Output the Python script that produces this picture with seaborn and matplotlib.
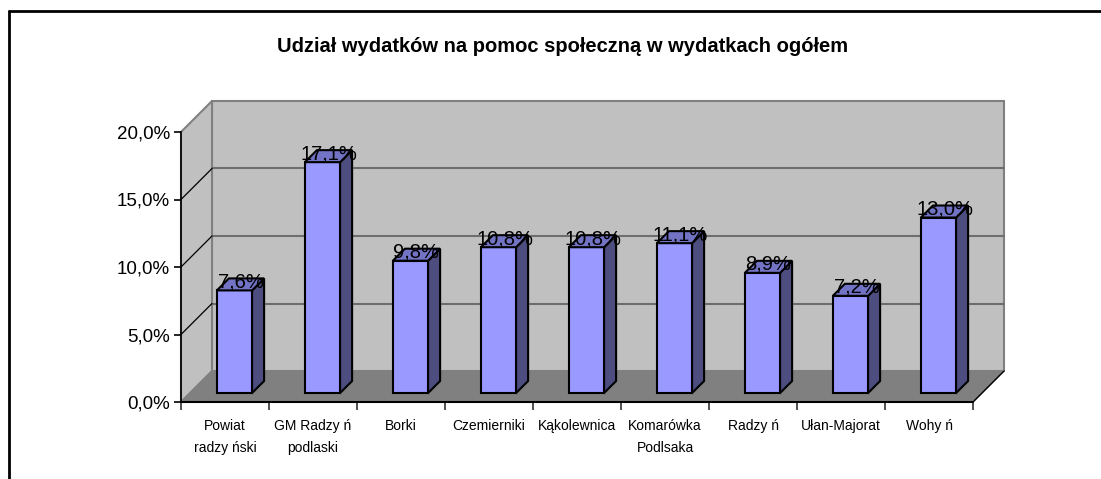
import numpy as np
import seaborn as sns
import matplotlib.pyplot as plt
from matplotlib.patches import Polygon
from matplotlib.lines import Line2D
from matplotlib.ticker import FuncFormatter

# data
categories = ["Powiat\nradzy ński", "GM Radzy ń\npodlaski", "Borki", "Czemierniki",
              "Kąkolewnica", "Komarówka\nPodlsaka", "Radzy ń", "Ułan-Majorat", "Wohy ń"]
values = [7.6, 17.1, 9.8, 10.8, 10.8, 11.1, 8.9, 7.2, 13.0]
value_labels = ["7,6%", "17,1%", "9,8%", "10,8%", "10,8%", "11,1%", "8,9%", "7,2%", "13,0%"]
title = "Udział wydatków na pomoc społeczną w wydatkach ogółem"

sns.set_style("white")
plt.rcParams["font.family"] = ["Liberation Sans", "DejaVu Sans"]
plt.rcParams["text.color"] = "black"
plt.rcParams["xtick.labelcolor"] = "black"
plt.rcParams["ytick.labelcolor"] = "black"

W, H = 1101, 479
fig = plt.figure(figsize=(W / 100, H / 100), dpi=100)
# front plane of the 3d box in pixels
x0, x1, y0, y1 = 181, 973, 402, 132
ax = fig.add_axes([x0 / W, 1 - y0 / H, (x1 - x0) / W, (y0 - y1) / H])

n = len(values)
px_x = (x1 - x0) / n          # pixels per category
px_y = (y0 - y1) / 20.0       # pixels per percent
depth = 31                    # depth of the box in pixels
ddx, ddy = depth / px_x, depth / px_y
off_x, off_y = 9.5 / px_x, 9.0 / px_y     # bar sits a bit inside the box
bdx, bdy = 12 / px_x, 12 / px_y           # bar depth

sns.barplot(x=categories, y=values, ax=ax, color="#9999FF", width=0.4,
            edgecolor="black", linewidth=1.5, saturation=1, zorder=3)
bars = list(ax.patches)

ax.set_xlim(-0.5, n - 0.5)
ax.set_ylim(0, 20)

# walls and floor
grey_wall = "#C0C0C0"
left, right = -0.5, n - 0.5
back = Polygon([(left + ddx, ddy), (right + ddx, ddy), (right + ddx, 20 + ddy), (left + ddx, 20 + ddy)],
               closed=True, facecolor=grey_wall, edgecolor="#808080", lw=1.5, zorder=0, clip_on=False)
side = Polygon([(left, 0), (left + ddx, ddy), (left + ddx, 20 + ddy), (left, 20)],
               closed=True, facecolor=grey_wall, edgecolor="#808080", lw=1.5, zorder=0, clip_on=False)
floor = Polygon([(left, 0), (right, 0), (right + ddx, ddy), (left + ddx, ddy)],
                closed=True, facecolor="#808080", edgecolor="#808080", lw=1, zorder=1, clip_on=False)
for p in (back, side, floor):
    ax.add_patch(p)
ax.plot([right, right + ddx], [0, ddy], color="black", lw=1, zorder=1.5, clip_on=False)

for g in [5, 10, 15]:
    ax.plot([left + ddx, right + ddx], [g + ddy, g + ddy], color="#6E6E6E", lw=1.5, zorder=0.5, clip_on=False)
    ax.plot([left, left + ddx], [g, g + ddy], color="black", lw=0.9, zorder=0.5, clip_on=False)

# 3d bars from the seaborn bars
for b, lab in zip(bars, value_labels):
    b.set_x(b.get_x() + off_x)
    b.set_y(b.get_y() + off_y)
    bx, by, bw, bh = b.get_x(), b.get_y(), b.get_width(), b.get_height()
    top = by + bh
    ax.add_patch(Polygon([(bx + bw, by), (bx + bw + bdx, by + bdy), (bx + bw + bdx, top + bdy), (bx + bw, top)],
                         closed=True, facecolor="#4D4D80", edgecolor="black", lw=1.5, zorder=3, clip_on=False))
    ax.add_patch(Polygon([(bx, top), (bx + bw, top), (bx + bw + bdx, top + bdy), (bx + bdx, top + bdy)],
                         closed=True, facecolor="#7373C6", edgecolor="black", lw=1.5, zorder=3, clip_on=False))
    ax.text(bx + bw / 2 + bdx / 2, top + 3 / px_y, lab, ha="center", va="baseline",
            fontsize=14.5, color="black", zorder=4)

# axes styling
for s in ["top", "right", "bottom"]:
    ax.spines[s].set_visible(False)
ax.spines["left"].set_color("black")
ax.spines["left"].set_linewidth(1.2)
ax.spines["left"].set_zorder(2)
ax.plot([left, right], [0, 0], color="black", lw=1.5, zorder=2, clip_on=False)

ax.set_yticks([0, 5, 10, 15, 20])
ax.yaxis.set_major_formatter(FuncFormatter(lambda v, p: f"{v:.1f}%".replace(".", ",")))
ax.tick_params(axis="y", left=True, length=5, width=1.2, color="black", labelsize=13.5, pad=3)
ax.tick_params(axis="x", bottom=False, labelsize=10, pad=9)
ax.set_xticks(range(n))
ax.set_xticks(np.arange(-0.5, n, 1.0), minor=True)
ax.tick_params(axis="x", which="minor", bottom=True, length=6, width=1.2, color="#333333")
for t in ax.get_xticklabels():
    t.set_linespacing(1.7)
ax.set_xlabel("")
ax.set_ylabel("")
ax.set_facecolor("none")
ax.grid(False)

fig.text(563 / W, 1 - 47 / H, title, ha="center", va="center", fontsize=14.5,
         fontweight="bold", color="black")

# chart border
fig.add_artist(Line2D([9 / W, 1], [1 - 11 / H, 1 - 11 / H], transform=fig.transFigure, color="black", lw=2))
fig.add_artist(Line2D([9 / W, 9 / W], [0, 1 - 11 / H], transform=fig.transFigure, color="black", lw=2))

fig.savefig("out.png", dpi=100)
